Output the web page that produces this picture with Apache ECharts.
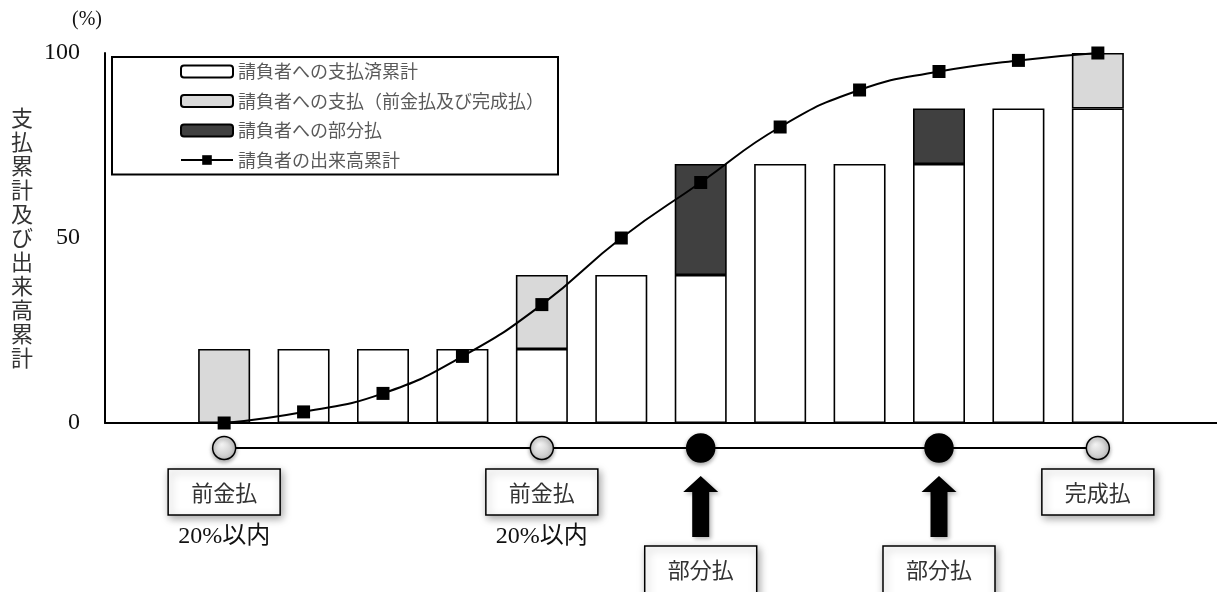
<!DOCTYPE html>
<html>
<head>
<meta charset="utf-8">
<script src="https://cdn.jsdelivr.net/npm/echarts@6/dist/echarts.min.js"></script>
<style>
html, body { margin: 0; padding: 0; background: #fff; }
#chart { width: 1217px; height: 592px; }
</style>
</head>
<body>
<div id="chart"></div>
<script>
// 12 payment periods, with an empty slot at each end of the axis
const periods = ["", "1", "2", "3", "4", "5", "6", "7", "8", "9", "10", "11", "12", ""];

const paidCumulative = [null, 20, 20, 20, 20, 40, 40, 70, 70, 70, 85, 85];
const advanceCompletion = [20, null, null, null, 20, null, null, null, null, null, null, 15];
const partialPayment = [null, null, null, null, null, null, 30, null, null, 15, null, null];
const progressCumulative = [0, 3, 8, 18, 32, 50, 65, 80, 90, 95, 98, 100];

const yTicks = [0, 50, 100];

// milestones under the axis: period index, kind, label, note
const milestoneIdx = [1, 5, 7, 10, 12];
const milestoneKind = ["advance", "advance", "partial", "partial", "completion"];
const milestoneLabel = ["前金払", "前金払", "部分払", "部分払", "完成払"];
const milestoneNote = ["20%以内", "20%以内", "", "", ""];

const seriesNames = [
	"請負者への支払済累計",
	"請負者への支払（前金払及び完成払）",
	"請負者への部分払",
	"請負者の出来高累計"
];

const cjk = "'Noto Sans CJK JP', sans-serif";
const serif = "'Liberation Serif', 'Noto Sans CJK JP', serif";

const pad = arr => [null, ...arr, null];

const chart = echarts.init(document.getElementById("chart"));

const barStyle = color => ({ color: color, borderColor: "#000", borderWidth: 1.6 });

const option = {
	animation: false,
	grid: { left: 105, top: 53, width: 1117, height: 370 },
	legend: {
		orient: "vertical",
		left: 112,
		top: 57,
		padding: [5, 14, 5, 68],
		itemGap: 10.5,
		itemWidth: 52,
		itemHeight: 12,
		borderColor: "#000",
		borderWidth: 2,
		borderRadius: 0,
		data: seriesNames,
		textStyle: { fontFamily: cjk, fontSize: 18, lineHeight: 19, color: "#595959" }
	},
	xAxis: {
		type: "category",
		data: periods,
		boundaryGap: true,
		axisLine: { lineStyle: { color: "#000", width: 2 } },
		axisTick: { show: false },
		axisLabel: { show: false }
	},
	yAxis: {
		type: "value",
		min: 0,
		max: 100,
		interval: 50,
		name: "支払累計及び出来高累計".split("").join("\n"),
		nameLocation: "middle",
		nameRotate: 0,
		nameGap: 72,
		nameTextStyle: { fontFamily: cjk, fontSize: 22, lineHeight: 24, color: "#333" },
		axisLine: { show: true, lineStyle: { color: "#000", width: 2 } },
		axisTick: { show: false },
		splitLine: { show: false },
		axisLabel: {
			margin: 25,
			fontFamily: serif,
			fontSize: 24,
			color: "#111",
			formatter: v => (yTicks.includes(v) ? v : "")
		}
	},
	series: [
		{
			name: seriesNames[0],
			type: "bar",
			stack: "pay",
			barWidth: 52,
			itemStyle: barStyle("#ffffff"),
			data: pad(paidCumulative)
		},
		{
			name: seriesNames[1],
			type: "bar",
			stack: "pay",
			barWidth: 52,
			itemStyle: barStyle("#d9d9d9"),
			data: pad(advanceCompletion)
		},
		{
			name: seriesNames[2],
			type: "bar",
			stack: "pay",
			barWidth: 52,
			itemStyle: barStyle("#404040"),
			data: pad(partialPayment)
		},
		{
			name: seriesNames[3],
			type: "line",
			smooth: true,
			symbol: "rect",
			symbolSize: 13,
			z: 5,
			lineStyle: { color: "#000", width: 2 },
			itemStyle: { color: "#000" },
			data: pad(progressCumulative)
		}
	],
	graphic: [
		{
			type: "text",
			left: 72,
			top: 10,
			style: { text: "(%)", fontFamily: serif, fontSize: 20, fill: "#111" }
		}
	]
};

chart.setOption(option);

// timeline and milestone annotations under the x axis
const axisY = chart.convertToPixel({ yAxisIndex: 0 }, 0);
const lineY = axisY + 25;
const xs = milestoneIdx.map(i => chart.convertToPixel({ xAxisIndex: 0 }, i));
const boxShadow = { shadowBlur: 8, shadowColor: "rgba(0,0,0,0.35)", shadowOffsetX: 2, shadowOffsetY: 3 };

const extra = [{
	type: "line",
	z: 100,
	shape: { x1: xs[0], y1: lineY, x2: xs[xs.length - 1], y2: lineY },
	style: { stroke: "#000", lineWidth: 2 }
}];

const addBox = (cx, top, h, text) => {
	extra.push({
		type: "rect",
		z: 100,
		shape: { x: cx - 56, y: top, width: 112, height: h },
		style: Object.assign({ fill: "#fff", stroke: "#000", lineWidth: 1.5 }, boxShadow)
	});
	extra.push({
		type: "text",
		z: 101,
		x: cx,
		y: top + 24,
		style: { text: text, fontFamily: cjk, fontSize: 22, fill: "#333", align: "center", verticalAlign: "middle" }
	});
};

milestoneIdx.forEach((idx, k) => {
	const cx = xs[k];
	const partial = milestoneKind[k] === "partial";
	extra.push({
		type: "circle",
		z: 101,
		shape: { cx: cx, cy: lineY, r: partial ? 14 : 11.5 },
		style: {
			fill: partial ? "#000" : new echarts.graphic.RadialGradient(0.4, 0.35, 0.75, [
				{ offset: 0, color: "#f4f4f4" },
				{ offset: 1, color: "#bcbcbc" }
			]),
			stroke: "#000",
			lineWidth: 1.5,
			shadowBlur: 4,
			shadowColor: "rgba(0,0,0,0.35)",
			shadowOffsetY: 2
		}
	});
	if (partial) {
		const top = lineY + 28, headBase = lineY + 44, bottom = lineY + 89;
		extra.push({
			type: "polygon",
			z: 100,
			shape: {
				points: [
					[cx, top], [cx + 17.5, headBase], [cx + 8.5, headBase], [cx + 8.5, bottom],
					[cx - 8.5, bottom], [cx - 8.5, headBase], [cx - 17.5, headBase]
				]
			},
			style: { fill: "#000", shadowBlur: 4, shadowColor: "rgba(0,0,0,0.3)", shadowOffsetX: 2, shadowOffsetY: 2 }
		});
		addBox(cx, lineY + 98, 60, milestoneLabel[k]);
	} else {
		addBox(cx, lineY + 21, 46, milestoneLabel[k]);
		if (milestoneNote[k]) {
			extra.push({
				type: "text",
				z: 101,
				x: cx,
				y: lineY + 89,
				style: { text: milestoneNote[k], fontFamily: serif, fontSize: 24, fill: "#111", align: "center", verticalAlign: "middle" }
			});
		}
	}
});

chart.setOption({ graphic: option.graphic.concat(extra) });
window.onresize = chart.resize;
</script>
</body>
</html>
